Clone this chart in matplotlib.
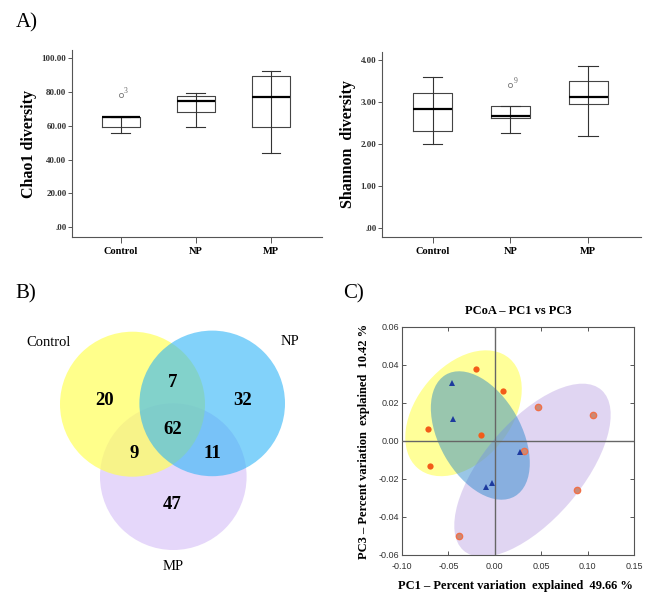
import matplotlib
matplotlib.use("Agg")
import matplotlib.pyplot as plt
from matplotlib.patches import Circle, Ellipse
from matplotlib.transforms import Affine2D

plt.rcParams['font.family'] = ['Liberation Serif', 'DejaVu Serif']

groups = ['Control', 'NP', 'MP']

# A) box plot summaries (SPSS style)
chao1_lo = [56.0, 59.2, 43.8]
chao1_q1 = [59.3, 68.0, 59.3]
chao1_med = [65.0, 75.0, 77.0]
chao1_q3 = [65.3, 77.6, 89.3]
chao1_hi = [65.3, 79.5, 92.4]
chao1_out = [[78.0], [], []]
chao1_out_lab = [['3'], [], []]
chao1_ticks = [0, 20, 40, 60, 80, 100]
chao1_ticklabels = ['.00', '20.00', '40.00', '60.00', '80.00', '100.00']

shannon_lo = [2.01, 2.27, 2.19]
shannon_q1 = [2.31, 2.63, 2.95]
shannon_med = [2.85, 2.67, 3.13]
shannon_q3 = [3.23, 2.92, 3.50]
shannon_hi = [3.61, 2.92, 3.86]
shannon_out = [[], [3.40], []]
shannon_out_lab = [[], ['9'], []]
shannon_ticks = [0, 1, 2, 3, 4]
shannon_ticklabels = ['.00', '1.00', '2.00', '3.00', '4.00']

# B) venn counts
venn_only = [20, 32, 47]      # Control, NP, MP only
venn_ctrl_np = 7
venn_ctrl_mp = 9
venn_np_mp = 11
venn_all = 62

# C) PCoA scores
ctrl_pc1 = [-0.0205, 0.0083, -0.0715, -0.0147, -0.0693]
ctrl_pc3 = [0.0381, 0.0265, 0.0061, 0.0030, -0.0132]
np_pc1 = [-0.0463, -0.0449, 0.0269, -0.0025, -0.0090]
np_pc3 = [0.0304, 0.0114, -0.0058, -0.0223, -0.0240]
mp_pc1 = [0.0463, 0.1056, 0.0884, -0.0384, 0.0310]
mp_pc3 = [0.0177, 0.0139, -0.0256, -0.0502, -0.0051]
# group ellipses: centre pc1, centre pc3, width, height (in pc1 units), angle
ell_ctrl = (-0.0337, 0.0146, 0.152, 0.101, 49)
ell_np = (-0.0156, 0.0029, 0.148, 0.088, -59.6)
ell_mp = (0.0406, -0.0154, 0.225, 0.105, 48.5)
pc_xticks = [-0.10, -0.05, 0.00, 0.05, 0.10, 0.15]
pc_yticks = [-0.06, -0.04, -0.02, 0.00, 0.02, 0.04, 0.06]

fig = plt.figure(figsize=(6.62, 6.02), dpi=100)


def boxpanel(ax, lo, q1, med, q3, hi, outs, outlabs, ticks, ticklabels, ylabel, ylim):
    pos = [0, 1, 2]
    stats = []
    for i in range(3):
        stats.append(dict(whislo=lo[i], q1=q1[i], med=med[i], q3=q3[i], whishi=hi[i], fliers=outs[i]))
    ax.vlines(pos, q1, q3, color='#333333', lw=0.8)
    ax.bxp(stats, positions=pos, widths=0.5, capwidths=0.25,
           boxprops=dict(color='#444444', lw=0.8),
           whiskerprops=dict(color='#333333', lw=0.8),
           capprops=dict(color='#333333', lw=0.8),
           medianprops=dict(color='black', lw=1.6),
           flierprops=dict(marker='o', mfc='none', mec='#777777', ms=3, mew=0.6))
    span = ylim[1] - ylim[0]
    for i in range(3):
        for v, lab in zip(outs[i], outlabs[i]):
            ax.text(pos[i] + 0.04, v + span * 0.015, lab, fontsize=5.5, color='#666666')
    ax.set_xlim(-0.65, 2.68)
    ax.set_ylim(*ylim)
    ax.set_yticks(ticks)
    ax.set_yticklabels(ticklabels, fontsize=6.5, fontweight='bold', color='#333333')
    ax.set_xticks(pos)
    ax.set_xticklabels(groups, fontsize=7.5, fontweight='bold')
    ax.spines['top'].set_visible(False)
    ax.spines['right'].set_visible(False)
    for s in ['left', 'bottom']:
        ax.spines[s].set_color('#555555')
        ax.spines[s].set_linewidth(0.8)
    ax.tick_params(axis='y', direction='out', length=3, width=0.7, color='#555555', pad=1)
    ax.tick_params(axis='x', direction='out', length=4, width=0.7, color='#555555', pad=3)
    ax.set_ylabel(ylabel, fontsize=11.5, fontweight='bold')


ax1 = fig.add_axes([72 / 662, 1 - 237 / 602, 250 / 662, 187 / 602])
boxpanel(ax1, chao1_lo, chao1_q1, chao1_med, chao1_q3, chao1_hi, chao1_out, chao1_out_lab,
         chao1_ticks, chao1_ticklabels, 'Chao1 diversity', (-6, 105))
ax1.yaxis.set_label_coords(-0.14, 0.5)

ax2 = fig.add_axes([382 / 662, 1 - 237 / 602, 259 / 662, 185 / 602])
boxpanel(ax2, shannon_lo, shannon_q1, shannon_med, shannon_q3, shannon_hi, shannon_out, shannon_out_lab,
         shannon_ticks, shannon_ticklabels, 'Shannon  diversity', (-0.22, 4.2))
ax2.yaxis.set_label_coords(-0.102, 0.5)

# B) Venn diagram, axes in pixel units of the lower left quarter
ax3 = fig.add_axes([0, 0, 331 / 662, 322 / 602])
ax3.set_xlim(0, 331)
ax3.set_ylim(602, 280)
ax3.axis('off')
ax3.add_patch(Circle((173.3, 476.7), 73.3, fc='#dbc6f8', ec='none', alpha=0.7))
ax3.add_patch(Circle((132.5, 404.2), 72.5, fc='#ffff5a', ec='none', alpha=0.7))
ax3.add_patch(Circle((212.2, 403.4), 72.8, fc='#2fb4f7', ec='none', alpha=0.6))
ax3.text(49, 342, 'Control', fontsize=10.5, ha='center', va='center')
ax3.text(290, 341, 'NP', fontsize=10.5, ha='center', va='center')
ax3.text(173, 566, 'MP', fontsize=10.5, ha='center', va='center')
numfont = dict(fontsize=13.5, fontweight='bold', ha='center', va='center')
ax3.text(105, 400.7, str(venn_only[0]), **numfont)
ax3.text(242.3, 400.7, str(venn_only[1]), **numfont)
ax3.text(172.3, 504.3, str(venn_only[2]), **numfont)
ax3.text(172.3, 382.7, str(venn_ctrl_np), **numfont)
ax3.text(134, 453.3, str(venn_ctrl_mp), **numfont)
ax3.text(212.3, 453.3, str(venn_np_mp), **numfont)
ax3.text(172.3, 430, str(venn_all), **numfont)

# C) PCoA
ax4 = fig.add_axes([402 / 662, 1 - 555 / 602, 232 / 662, 228 / 602])
ax4.set_xlim(-0.10, 0.15)
ax4.set_ylim(-0.06, 0.06)
iso = Affine2D().scale(1, 0.5) + ax4.transData
for (cx, cy, w, h, ang), col, a, z in [(ell_ctrl, '#ffff55', 0.6, 1),
                                      (ell_mp, '#c8b4e8', 0.55, 1),
                                      (ell_np, '#1e82c8', 0.45, 2)]:
    ax4.add_patch(Ellipse((cx, 2 * cy), w, h, angle=ang, fc=col, ec='none', alpha=a,
                          transform=iso, zorder=z))
ax4.axhline(0, color='#666666', lw=1, zorder=3)
ax4.axvline(0, color='#666666', lw=1, zorder=3)
ax4.plot(ctrl_pc1, ctrl_pc3, 'o', color='#f25c19', ms=4.5, mew=0, zorder=4)
ax4.plot(mp_pc1, mp_pc3, 'o', mfc='#c98a78', mec='#f07048', ms=4.5, mew=1.0, zorder=4)
ax4.plot(np_pc1, np_pc3, '^', color='#1d3a9e', ms=4.5, mew=0, zorder=5)
ax4.set_xticks(pc_xticks)
ax4.set_xticklabels(['%.2f' % v for v in pc_xticks], fontsize=6.5, family='Liberation Sans', color='#333333')
ax4.set_yticks(pc_yticks)
ax4.set_yticklabels(['%.2f' % v for v in pc_yticks], fontsize=6.5, family='Liberation Sans', color='#333333')
ax4.tick_params(direction='in', top=True, right=True, length=3, width=0.7, color='#555555', pad=2)
ax4.tick_params(axis='x', pad=5)
for s in ax4.spines.values():
    s.set_color('#555555')
    s.set_linewidth(0.8)
ax4.set_title('PCoA \u2013 PC1 vs PC3', fontsize=9, fontweight='bold', pad=9)
ax4.set_xlabel('PC1 \u2013 Percent variation  explained  49.66 %', fontsize=9, fontweight='bold')
ax4.set_ylabel('PC3 \u2013 Percent variation  explained  10.42 %', fontsize=9, fontweight='bold')
ax4.yaxis.set_label_coords(-0.138, 0.5)
ax4.xaxis.set_label_coords(0.49, -0.11)

fig.text(27 / 662, 1 - 23 / 602, 'A)', fontsize=15, ha='center', va='center')
fig.text(26 / 662, 1 - 294 / 602, 'B)', fontsize=15, ha='center', va='center')
fig.text(354 / 662, 1 - 294 / 602, 'C)', fontsize=15, ha='center', va='center')

fig.savefig('out.png', dpi=100)
